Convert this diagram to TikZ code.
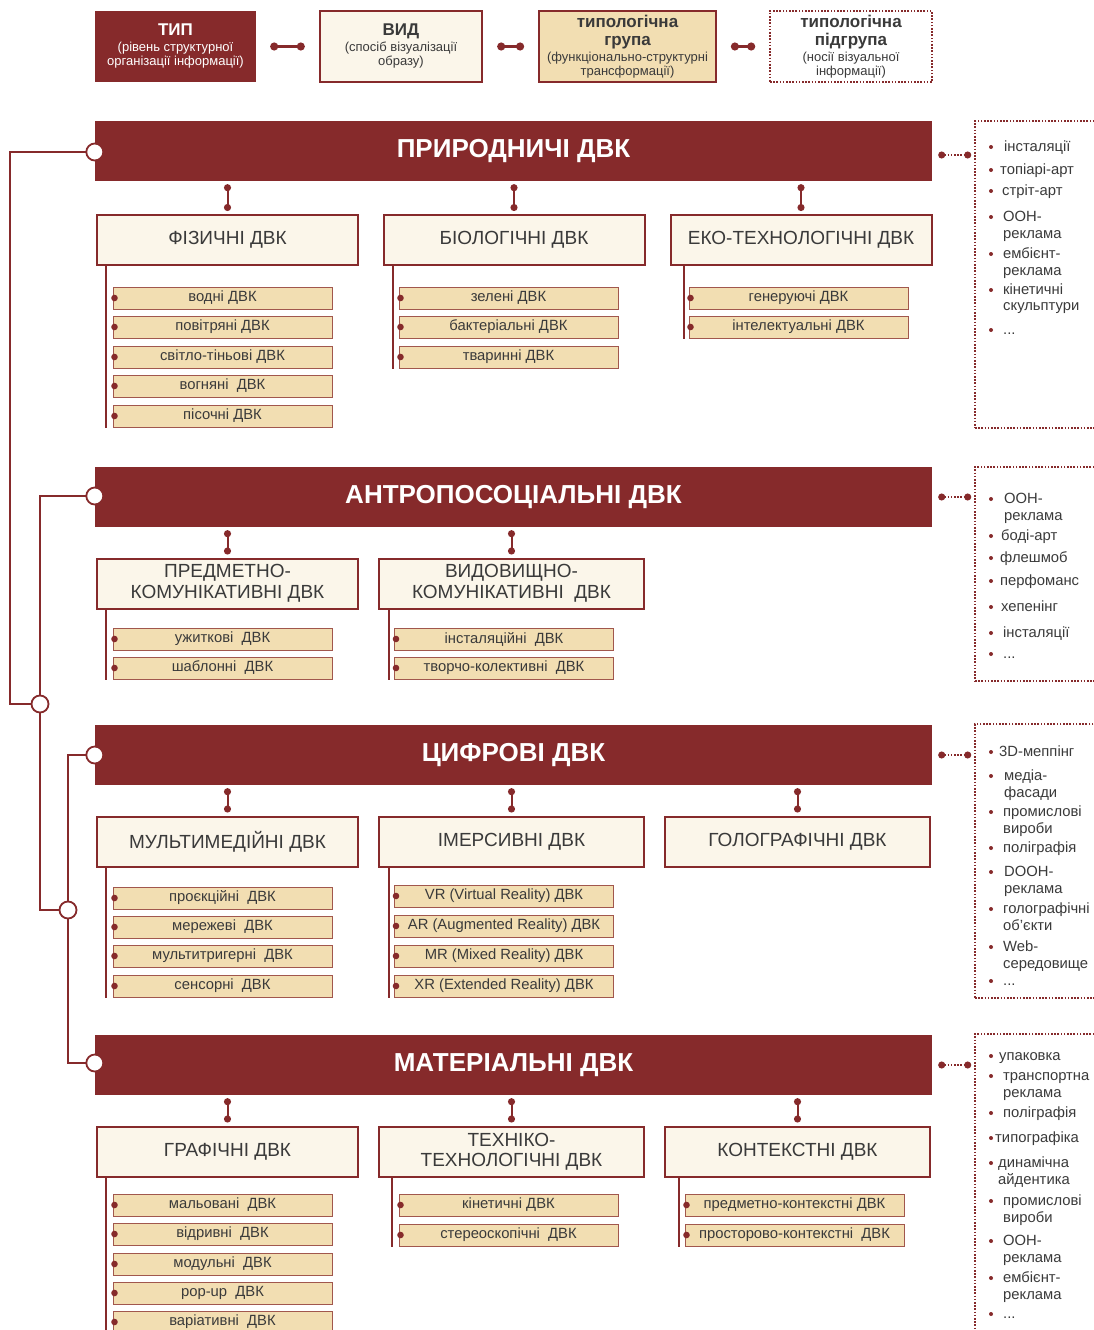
\documentclass[tikz,border=0pt]{standalone}
\usepackage{fontspec}
\setmainfont{Liberation Sans}
\usetikzlibrary{arrows.meta}
\definecolor{dvk}{HTML}{862A2B}
\definecolor{cream}{HTML}{FBF6EA}
\definecolor{tanbox}{HTML}{F2DEB2}
\definecolor{ink}{HTML}{3A3A3A}
\newcommand\lgbig[1]{{\bfseries\fontsize{17}{18}\selectfont #1}}
\newcommand\ellip{...}
\begin{document}
\begin{tikzpicture}[x=1pt,y=-1pt,
  banner/.style={rectangle, fill=dvk, minimum width=837pt, minimum height=60pt, inner sep=0pt, text=white, font=\bfseries\fontsize{26}{28}\selectfont},
  ring/.style={circle, draw=dvk, fill=white, line width=1.8pt, minimum size=17pt, inner sep=0pt},
  vbox/.style={rectangle, fill=cream, draw=dvk, line width=2pt, minimum width=261pt, minimum height=50pt, inner sep=0pt, text=ink, align=center, font=\fontsize{19}{20.5}\selectfont},
  subbox/.style={rectangle, fill=tanbox, draw=dvk!75!tanbox, line width=1pt, minimum width=219pt, minimum height=22pt, inner sep=0pt, text=ink, font=\fontsize{14.8}{16}\selectfont},
  legend/.style={rectangle, minimum height=71pt, inner sep=0pt, align=center, font=\fontsize{13}{14.5}\selectfont},
  listbox/.style={rectangle, draw=dvk, line width=1.6pt, dash pattern=on 1.6pt off 1.6pt, inner sep=0pt},
  li/.style={anchor=base west, yshift=-4.8pt, inner sep=0pt, text=ink, font=\fontsize{14.8}{16}\selectfont},
  trunk/.style={draw=dvk, line width=2.2pt},
  stem/.style={draw=dvk, line width=2pt},
  vlink/.style={draw=dvk, line width=2pt, {Circle[length=7pt]}-{Circle[length=7pt]}, shorten <=3pt, shorten >=3pt},
  hlink/.style={draw=dvk, line width=2.2pt, {Circle[length=8pt]}-{Circle[length=8pt]}, shorten <=14pt, shorten >=14pt},
  dlink/.style={draw=dvk, line width=1.6pt, dash pattern=on 1.6pt off 1.6pt, {Circle[length=7pt]}-{Circle[length=7pt]}, shorten <=6pt, shorten >=3pt}
]
\useasboundingbox (0,0) rectangle (1094,1330);
\fill[white] (0,0) rectangle (1094,1330);

% ---------- legend ----------
\node[legend, fill=dvk, text=white, minimum width=161pt] (t1) at (175.5,46.5)
  {\lgbig{ТИП}\\[1pt](рівень структурної\\організації інформації)};
\node[legend, fill=cream, draw=dvk, line width=2.4pt, text=ink, minimum width=162pt] (t2) at (401,46.5)
  {\lgbig{ВИД}\\[1pt](спосіб візуалізації\\образу)};
\node[legend, fill=tanbox, draw=dvk, line width=1.8pt, text=ink, minimum width=177pt] (t3) at (627.5,46.5)
  {\lgbig{типологічна}\\[4pt]\lgbig{група}\\[1pt](функціонально-структурні\\трансформації)};
\node[legend, fill=white, draw=dvk, line width=1.6pt, dash pattern=on 1.6pt off 1.6pt, text=ink, minimum width=162pt] (t4) at (851,46.5)
  {\lgbig{типологічна}\\[4pt]\lgbig{підгрупа}\\[1pt](носії візуальної\\інформації)};
\draw[hlink] (t1.east) -- (t2.west);
\draw[hlink] (t2.east) -- (t3.west);
\draw[hlink] (t3.east) -- (t4.west);

% ---------- banners ----------
\node[banner] (b1) at (513.5,151) {ПРИРОДНИЧІ ДВК};
\node[banner] (b2) at (513.5,497) {АНТРОПОСОЦІАЛЬНІ ДВК};
\node[banner] (b3) at (513.5,755) {ЦИФРОВІ ДВК};
\node[banner] (b4) at (513.5,1065) {МАТЕРІАЛЬНІ ДВК};

% ---------- trunk ----------
\coordinate (k1) at (10,0);
\node[ring] (j1) at (40,704) {};
\node[ring] (j2) at (68,910) {};
\draw[trunk] ([yshift=-1pt]b1.west) -- ([yshift=-1pt]b1.west -| k1) |- (j1.west);
\draw[trunk] ([yshift=1pt]b2.west) -| (j1.north);
\draw[trunk] (j1.south) |- (j2.west);
\draw[trunk] (b3.west) -| (j2.north);
\draw[trunk] (j2.south) |- ([yshift=2pt]b4.west);
\node[ring] (r1) at ([yshift=-1pt]b1.west) {};
\node[ring] (r2) at ([yshift=1pt]b2.west) {};
\node[ring] (r3) at (b3.west) {};
\node[ring] (r4) at ([yshift=2pt]b4.west) {};

% ---------- section 1 ----------
\node[vbox] (v11) at (227.5,240) {ФІЗИЧНІ ДВК};
\node[vbox] (v12) at (514,240) {БІОЛОГІЧНІ ДВК};
\node[vbox] (v13) at (801,240) {ЕКО-ТЕХНОЛОГІЧНІ ДВК};
\foreach \v in {v11,v12,v13} \draw[vlink] (\v.north |- b1.south) -- (\v.north);
\foreach \n/\y/\t in {a/298/водні ДВК, b/327/повітряні ДВК, c/357/світло-тіньові ДВК, d/386/вогняні~~ДВК, e/416/пісочні ДВК}
  {\node[subbox] (s11\n) at (222.5,\y) {\t}; \fill[dvk] ([xshift=2pt]s11\n.west) circle (3.3pt);}
\foreach \n/\y/\t in {a/298/зелені ДВК, b/327/бактеріальні ДВК, c/357/тваринні ДВК}
  {\node[subbox] (s12\n) at (508.5,\y) {\t}; \fill[dvk] ([xshift=2pt]s12\n.west) circle (3.3pt);}
\foreach \n/\y/\t in {a/298/генеруючі ДВК, b/327/інтелектуальні ДВК}
  {\node[subbox] (s13\n) at (798.5,\y) {\t}; \fill[dvk] ([xshift=2pt]s13\n.west) circle (3.3pt);}
\draw[stem] ([xshift=10pt]v11.south west) -- ([xshift=10pt]v11.south west |- s11e.south);
\draw[stem] ([xshift=10pt]v12.south west) -- ([xshift=10pt]v12.south west |- s12c.south);
\draw[stem] ([xshift=14pt]v13.south west) -- ([xshift=14pt]v13.south west |- s13b.south);

% ---------- section 2 ----------
\node[vbox] (v21) at (227.5,583.5) {ПРЕДМЕТНО-\\КОМУНІКАТИВНІ ДВК};
\node[vbox, minimum width=265pt] (v22) at (511.5,583.5) {ВИДОВИЩНО-\\КОМУНІКАТИВНІ~~ДВК};
\foreach \v in {v21,v22} \draw[vlink] (\v.north |- b2.south) -- (\v.north);
\foreach \n/\y/\t in {a/639/ужиткові~~ДВК, b/668/шаблонні~~ДВК}
  {\node[subbox] (s21\n) at (222.5,\y) {\t}; \fill[dvk] ([xshift=2pt]s21\n.west) circle (3.3pt);}
\foreach \n/\y/\t in {a/639/інсталяційні~~ДВК, b/668/творчо-колективні~~ДВК}
  {\node[subbox] (s22\n) at (504,\y) {\t}; \fill[dvk] ([xshift=2pt]s22\n.west) circle (3.3pt);}
\draw[stem] ([xshift=10pt]v21.south west) -- ([xshift=10pt]v21.south west |- s21b.south);
\draw[stem] ([xshift=11pt]v22.south west) -- ([xshift=11pt]v22.south west |- s22b.south);

% ---------- section 3 ----------
\node[vbox] (v31) at (227.5,841.5) {МУЛЬТИМЕДІЙНІ ДВК};
\node[vbox, minimum width=265pt] (v32) at (511.5,841.5) {ІМЕРСИВНІ ДВК};
\node[vbox, minimum width=265pt] (v33) at (797.5,841.5) {ГОЛОГРАФІЧНІ ДВК};
\foreach \v in {v31,v32,v33} \draw[vlink] (\v.north |- b3.south) -- (\v.north);
\foreach \n/\y/\t in {a/898/проєкційні~~ДВК, b/927/мережеві~~ДВК, c/956/мультитригерні~~ДВК, d/986/сенсорні~~ДВК}
  {\node[subbox] (s31\n) at (222.5,\y) {\t}; \fill[dvk] ([xshift=2pt]s31\n.west) circle (3.3pt);}
\foreach \n/\y/\t in {a/896/VR (Virtual Reality) ДВК, b/926/AR (Augmented Reality) ДВК, c/956/MR (Mixed Reality) ДВК, d/986/XR (Extended Reality) ДВК}
  {\node[subbox] (s32\n) at (504,\y) {\t}; \fill[dvk] ([xshift=2pt]s32\n.west) circle (3.3pt);}
\draw[stem] ([xshift=10pt]v31.south west) -- ([xshift=10pt]v31.south west |- s31d.south);
\draw[stem] ([xshift=11pt]v32.south west) -- ([xshift=11pt]v32.south west |- s32d.south);

% ---------- section 4 ----------
\node[vbox] (v41) at (227.5,1151.5) {ГРАФІЧНІ ДВК};
\node[vbox, minimum width=265pt] (v42) at (511.5,1151.5) {ТЕХНІКО-\\ТЕХНОЛОГІЧНІ ДВК};
\node[vbox, minimum width=265pt] (v43) at (797.5,1151.5) {КОНТЕКСТНІ ДВК};
\foreach \v in {v41,v42,v43} \draw[vlink] (\v.north |- b4.south) -- (\v.north);
\foreach \n/\y/\t in {a/1205/мальовані~~ДВК, b/1234/відривні~~ДВК, c/1264/модульні~~ДВК, d/1293/pop-up~~ДВК, e/1322/варіативні~~ДВК}
  {\node[subbox] (s41\n) at (222.5,\y) {\t}; \fill[dvk] ([xshift=2pt]s41\n.west) circle (3.3pt);}
\foreach \n/\y/\t in {a/1205/кінетичні ДВК, b/1235/стереоскопічні~~ДВК}
  {\node[subbox] (s42\n) at (508.5,\y) {\t}; \fill[dvk] ([xshift=2pt]s42\n.west) circle (3.3pt);}
\foreach \n/\y/\t in {a/1205/предметно-контекстні ДВК, b/1235/просторово-контекстні~~ДВК}
  {\node[subbox] (s43\n) at (794.5,\y) {\t}; \fill[dvk] ([xshift=2pt]s43\n.west) circle (3.3pt);}
\draw[stem] ([xshift=10pt]v41.south west) -- ([xshift=10pt]v41.south west |- s41e.south);
\draw[stem] ([xshift=14pt]v42.south west) -- ([xshift=14pt]v42.south west |- s42b.south);
\draw[stem] ([xshift=15pt]v43.south west) -- ([xshift=15pt]v43.south west |- s43b.south);

% ---------- lists ----------
\node[listbox, minimum width=135pt, minimum height=307pt] (lb1) at (1042.5,274.5) {};
\node[listbox, minimum width=135pt, minimum height=214pt] (lb2) at (1042.5,574) {};
\node[listbox, minimum width=135pt, minimum height=274pt] (lb3) at (1042.5,861) {};
\node[listbox, minimum width=135pt, minimum height=310pt] (lb4) at (1042.5,1189) {};
\draw[dlink] ([yshift=-4pt]b1.east) -- ([yshift=-4pt]b1.east -| lb1.west);
\draw[dlink] (b2.east) -- (b2.east -| lb2.west);
\draw[dlink] (b3.east) -- (b3.east -| lb3.west);
\draw[dlink] (b4.east) -- (b4.east -| lb4.west);

\foreach \x/\y/\t [count=\i] in {1004/147/інсталяції, 1000/170/топіарі-арт, 1002/191/стріт-арт, 1003/217/ООН-, 1003/234/реклама, 1003/254/ембієнт-, 1003/271/реклама, 1003/290/кінетичні, 1003/306/скульптури, 1003/330/\ellip}
  \node[li] (l1-\i) at (\x,\y) {\t};
\foreach \y in {147,170,191,217,254,290,330} \fill[dvk] (991,\y) circle (2pt);

\foreach \x/\y/\t [count=\i] in {1004/499/ООН-, 1004/516/реклама, 1001/536/боді-арт, 1000/558/флешмоб, 1000/581/перфоманс, 1001/607/хепенінг, 1003/633/інсталяції, 1003/654/\ellip}
  \node[li] (l2-\i) at (\x,\y) {\t};
\foreach \y in {499,536,558,581,607,633,654} \fill[dvk] (991,\y) circle (2pt);

\foreach \x/\y/\t [count=\i] in {999/752/3D-меппінг, 1004/776/медіа-, 1004/793/фасади, 1003/812/промислові, 1003/829/вироби, 1003/848/поліграфія, 1004/872/DOOH-, 1004/889/реклама, 1003/909/голографічні, 1003/926/об’єкти, 1003/947/Web-, 1003/964/середовище, 1003/981/\ellip}
  \node[li] (l3-\i) at (\x,\y) {\t};
\foreach \y in {752,776,812,848,872,909,947,981} \fill[dvk] (991,\y) circle (2pt);

\foreach \x/\y/\t [count=\i] in {999/1056/упаковка, 1003/1076/транспортна, 1003/1093/реклама, 1003/1113/поліграфія, 995/1138/типографіка, 998/1163/динамічна, 998/1180/айдентика, 1003/1201/промислові, 1003/1218/вироби, 1003/1241/ООН-, 1003/1258/реклама, 1003/1278/ембієнт-, 1003/1295/реклама, 1003/1314/\ellip}
  \node[li] (l4-\i) at (\x,\y) {\t};
\foreach \y in {1056,1076,1113,1138,1163,1201,1241,1278,1314} \fill[dvk] (991,\y) circle (2pt);
\end{tikzpicture}
\end{document}
